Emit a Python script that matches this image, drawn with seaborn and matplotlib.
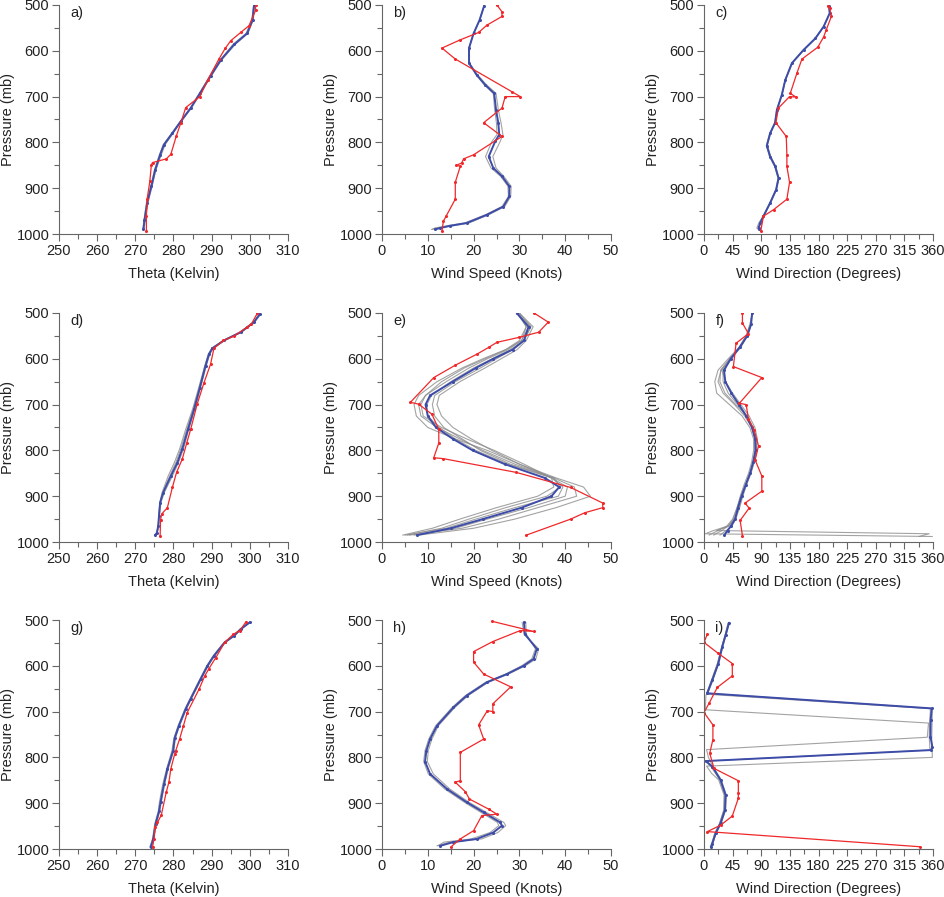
import numpy as np
import pandas as pd
import matplotlib
matplotlib.use("Agg")
import matplotlib.pyplot as plt
import seaborn as sns
from matplotlib.ticker import MultipleLocator

sns.set_theme(style="ticks")
plt.rcParams["font.family"] = ["Liberation Sans", "DejaVu Sans"]

RED = "#f0282a"
BLUE = "#3d4ca8"
GREY = "#8c8c8c"

# ---------------------------------------------------------------------------
# panel a  (theta)
# ---------------------------------------------------------------------------
A_RED_P = [500, 512, 545, 560, 578, 594, 618, 663, 700, 724, 758, 787, 826, 836, 844, 849, 885, 923, 960, 993]
A_RED_V = [301.5, 301.5, 299.8, 297.6, 295.0, 293.6, 291.9, 289.0, 286.9, 283.2, 281.9, 280.7,
           279.3, 278.1, 274.5, 274.2, 273.8, 273.1, 272.9, 272.9]
A_BLUE_P = [500, 533, 562, 586, 620, 655, 693, 725, 754, 780, 805, 827, 860, 896, 932, 969, 990]
A_BLUE_V = [301.1, 300.7, 299.3, 295.9, 292.4, 289.7, 286.9, 284.5, 281.9, 279.7, 277.5, 276.5,
            275.2, 274.2, 273.1, 272.4, 272.1]
A_GREY1_V = [301.0, 300.5, 299.0, 295.6, 292.2, 289.5, 286.8, 284.4, 281.8, 279.5, 277.3, 276.3,
             275.0, 274.0, 272.9, 272.3, 272.0]
A_GREY2_V = [301.3, 300.9, 299.5, 296.2, 292.6, 289.9, 287.1, 284.7, 282.1, 279.9, 277.8, 276.8,
             275.4, 274.4, 273.3, 272.6, 272.3]

# panel b  (wind speed)
B_RED_P = [500, 515, 525, 544, 560, 576, 594, 618, 689, 700, 700, 725, 757, 787, 827, 836, 845,
           850, 852, 887, 924, 961, 972, 993]
B_RED_V = [25.1, 26.2, 26.2, 22.9, 21.1, 17.1, 13.1, 16.0, 28.3, 30.2, 26.9, 26.2, 22.2, 26.2,
           20.0, 17.8, 17.4, 16.2, 17.1, 16.0, 16.0, 14.0, 13.4, 13.1]
B_BLUE_P = [502, 533, 562, 594, 627, 653, 674, 693, 729, 758, 783, 798, 831, 856, 874, 896, 918,
            940, 958, 976, 982, 987, 990]
B_BLUE_V = [22.3, 21.3, 20.0, 19.0, 19.0, 20.7, 22.5, 24.5, 24.9, 25.4, 25.6, 24.7, 23.3, 24.3,
            26.2, 27.8, 27.8, 26.5, 22.9, 18.5, 14.9, 12.7, 11.6]
B_GREY1_V = [22.3, 21.3, 20.0, 19.0, 19.1, 20.9, 22.8, 24.9, 25.4, 26.0, 26.4, 25.8, 24.2, 24.9,
             26.6, 28.2, 28.1, 26.8, 23.3, 19.0, 15.5, 12.0, 10.8]
B_GREY2_V = [22.3, 21.3, 20.0, 19.0, 19.0, 20.6, 22.3, 24.3, 24.6, 25.0, 25.1, 24.0, 22.6, 23.8,
             25.9, 27.5, 27.6, 26.2, 22.6, 18.0, 14.2, 11.5, 11.0]

# panel c  (wind direction)
C_RED_P = [502, 507, 525, 555, 570, 592, 618, 649, 693, 701, 700, 725, 757, 787, 827, 852, 887,
           924, 947, 961, 993]
C_RED_V = [194.4, 197.6, 200.2, 192.0, 188.0, 179.0, 154.0, 146.0, 135.6, 144.5, 134.5, 117.0,
           113.0, 129.3, 130.3, 130.3, 134.5, 130.3, 109.3, 93.5, 89.3]
C_BLUE_P = [502, 518, 547, 573, 598, 627, 664, 696, 729, 757, 780, 807, 831, 852, 878, 903, 932,
            961, 976, 987, 990]
C_BLUE_V = [196.5, 197.6, 188.1, 175.0, 156.6, 138.2, 127.7, 122.4, 114.6, 111.8, 104.0, 98.8,
            104.0, 111.8, 117.2, 113.5, 104.0, 93.5, 88.3, 85.7, 87.2]
C_GREY1_V = [196.5, 197.4, 188.0, 174.6, 156.0, 137.8, 127.4, 122.0, 114.2, 111.2, 103.4, 98.0,
             103.0, 111.0, 116.5, 112.8, 103.4, 93.0, 86.0, 83.0, 85.5]
C_GREY2_V = [196.6, 197.8, 188.4, 175.5, 157.0, 138.6, 128.0, 122.7, 115.0, 112.3, 104.6, 99.5,
             105.0, 112.6, 117.8, 114.0, 104.5, 94.0, 89.5, 86.5, 88.5]

# panel d  (theta)
D_RED_P = [500, 524, 531, 550, 560, 577, 612, 652, 699, 754, 783, 819, 848, 881, 925, 939, 952, 987]
D_RED_V = [302.0, 300.4, 299.3, 295.9, 293.1, 290.6, 289.7, 288.0, 286.2, 284.5, 283.5, 282.3,
           280.8, 279.7, 278.4, 276.9, 276.6, 276.5]
D_BLUE_P = [502, 520, 542, 560, 577, 590, 615, 663, 710, 754, 797, 827, 856, 892, 914, 943, 965, 981, 985]
D_BLUE_V = [302.7, 301.1, 297.6, 293.2, 290.2, 289.3, 288.4, 286.9, 285.4, 283.8, 282.3, 281.0,
            279.3, 277.3, 276.5, 276.2, 276.0, 275.6, 275.1]
D_GREY1_V = [302.5, 300.9, 297.4, 293.0, 290.0, 289.1, 288.2, 286.6, 285.0, 283.2, 281.6, 280.2,
             278.6, 277.0, 276.4, 276.1, 276.0, 275.7, 275.3]
D_GREY2_V = [302.6, 301.0, 297.5, 293.1, 290.1, 289.2, 288.3, 286.8, 285.2, 283.5, 281.9, 280.6,
             279.0, 277.2, 276.5, 276.2, 276.0, 275.6, 275.2]
D_GREY3_V = [302.8, 301.2, 297.8, 293.4, 290.4, 289.5, 288.6, 287.1, 285.6, 284.0, 282.6, 281.3,
             279.7, 277.6, 276.7, 276.3, 276.1, 275.7, 275.2]

# panel e  (wind speed, wide ensemble)
E_RED_P = [500, 520, 542, 553, 564, 575, 590, 614, 641, 695, 699, 721, 754, 784, 816, 818, 848,
           881, 915, 925, 936, 950, 985]
E_RED_V = [33.2, 36.3, 34.2, 30.0, 25.1, 23.3, 20.7, 16.0, 11.3, 6.2, 8.0, 10.9, 12.4, 12.4, 11.3,
           13.4, 29.3, 41.2, 48.2, 48.2, 44.3, 41.2, 31.5]
E_P = [500, 530, 560, 580, 600, 620, 650, 680, 700, 725, 750, 775, 800, 830, 860, 880, 900, 925,
       950, 970, 985]
E_BLUE_V = [29.4, 32.0, 31.0, 28.5, 24.3, 20.5, 15.4, 10.5, 9.5, 10.0, 11.8, 15.5, 19.8, 26.8,
            35.5, 38.7, 37.0, 30.5, 22.0, 15.0, 7.6]
E_GREY1_V = [29.5, 31.5, 30.0, 27.0, 22.0, 17.5, 12.0, 8.0, 7.0, 7.5, 10.0, 16.0, 23.0, 30.0,
             37.0, 37.5, 34.0, 25.0, 17.0, 11.0, 4.5]
E_GREY2_V = [30.0, 33.0, 31.5, 29.5, 26.0, 22.5, 17.0, 12.5, 12.0, 13.0, 15.5, 19.5, 24.0, 30.0,
             38.0, 44.0, 45.5, 38.0, 29.0, 20.0, 8.0]
E_GREY3_V = [30.0, 32.5, 31.0, 28.5, 25.0, 21.5, 16.0, 11.5, 11.0, 11.5, 13.5, 17.5, 21.5, 28.0,
             37.5, 42.0, 42.5, 34.0, 25.5, 17.5, 6.0]
E_GREY4_V = [29.5, 32.0, 30.5, 27.5, 23.0, 19.0, 14.0, 9.5, 8.0, 8.5, 12.0, 17.0, 22.0, 29.0,
             37.5, 39.0, 36.0, 27.0, 19.0, 13.0, 5.5]
E_GREY5_V = [29.6, 32.5, 31.0, 28.0, 24.0, 20.0, 15.0, 10.8, 9.8, 10.0, 12.5, 16.0, 20.5, 27.5,
             37.0, 40.5, 40.0, 32.0, 23.0, 16.0, 7.0]
E_GREY6_V = [29.8, 31.5, 30.5, 27.0, 22.5, 18.0, 13.0, 9.5, 8.5, 9.0, 13.0, 18.5, 24.5, 31.0,
             37.0, 39.5, 38.5, 29.0, 20.5, 14.0, 5.0]

# panel f  (wind direction)
F_RED_P = [500, 522, 545, 566, 617, 641, 697, 700, 731, 755, 790, 821, 856, 889, 915, 926, 953, 986]
F_RED_V = [60.4, 60.4, 69.9, 50.4, 46.2, 90.9, 55.7, 66.2, 69.9, 78.8, 85.7, 80.4, 90.9, 90.9,
           64.6, 70.9, 56.8, 60.4]
F_P = [500, 525, 550, 575, 600, 625, 650, 675, 700, 725, 750, 775, 800, 825, 850, 875, 900, 925,
       950, 965, 975, 985]
F_BLUE_V = [75.7, 74.0, 68.0, 56.0, 42.0, 31.5, 33.5, 43.0, 55.0, 66.5, 75.5, 80.5, 81.0, 77.5,
            72.5, 65.5, 59.0, 53.5, 48.9, 42.5, 37.0, 32.0]
F_GREY1_V = [76, 72, 66, 55, 38, 22, 17, 20, 40, 60, 72, 78, 78, 75, 70, 63, 57, 52, 46, 38, 28, 15]
F_GREY2_V = [76, 73, 67, 56, 40, 26, 25, 33, 50, 68, 77, 82, 83, 79, 73, 66, 58, 52, 45, 36, 22, 8]
F_GREY3_V = [75, 74, 68, 58, 41, 28, 34, 45, 58, 71, 80, 84, 82, 79, 74, 67, 61, 56, 50, 44, 35, 25]
F_WRAP_P = [500, 525, 550, 575, 600, 625, 650, 675, 700, 725, 750, 775, 800, 825, 850, 875, 900,
            925, 950, 965, 975, 982, 988]
F_GREY4_V = [76, 73, 67, 57, 42, 27, 22, 30, 48, 64, 75, 80, 80, 77, 72, 66, 60, 55, 48, 40, 20,
             354, 338]
F_GREY5_V = [75, 74, 68, 57, 43, 30, 30, 38, 53, 66, 76, 81, 81, 78, 73, 66, 60, 54, 48, 38, 15,
             2, 359]

# panel g  (theta)
G_RED_P = [504, 523, 531, 549, 582, 606, 622, 651, 702, 731, 760, 785, 793, 825, 854, 876, 926,
           942, 953, 978, 996]
G_RED_V = [299.0, 297.4, 295.7, 293.4, 291.1, 289.3, 288.2, 286.7, 283.6, 282.6, 281.6, 280.6,
           280.3, 279.3, 278.8, 278.1, 276.8, 275.8, 275.1, 274.9, 274.5]
G_BLUE_P = [505, 520, 534, 549, 578, 600, 629, 672, 694, 731, 758, 785, 825, 858, 898, 918, 945, 978, 996]
G_BLUE_V = [300.0, 297.6, 295.9, 293.4, 290.6, 288.9, 287.1, 284.5, 283.2, 281.4, 280.3, 279.9,
            278.4, 277.5, 276.6, 276.2, 275.3, 274.7, 274.0]
G_GREY1_V = [299.8, 297.4, 295.7, 293.2, 290.4, 288.7, 286.9, 284.3, 283.0, 281.2, 280.1, 279.6,
             278.2, 277.2, 276.3, 276.0, 275.1, 274.5, 273.8]
G_GREY2_V = [300.1, 297.8, 296.1, 293.6, 290.8, 289.1, 287.3, 284.7, 283.4, 281.6, 280.5, 280.1,
             278.6, 277.7, 276.8, 276.4, 275.5, 274.9, 274.2]

# panel h  (wind speed)
H_RED_P = [503, 525, 523, 547, 569, 592, 618, 646, 683, 700, 698, 729, 760, 789, 851, 854, 875,
           891, 913, 924, 927, 960, 978, 995]
H_RED_V = [24.1, 33.1, 30.2, 24.2, 20.0, 20.0, 22.2, 28.1, 24.2, 24.2, 23.0, 21.1, 22.2, 17.1,
           17.1, 16.0, 18.2, 19.1, 23.3, 25.1, 21.8, 20.0, 17.1, 15.1]
H_BLUE_P = [505, 531, 563, 585, 600, 618, 636, 665, 691, 731, 760, 785, 809, 836, 869, 898, 920,
            942, 949, 964, 978, 985, 993]
H_BLUE_V = [31.0, 31.2, 33.8, 33.1, 30.9, 27.3, 22.9, 18.5, 15.6, 12.0, 10.5, 9.7, 9.4, 10.5,
            14.2, 18.5, 22.2, 25.8, 26.2, 24.3, 20.7, 15.6, 12.7]
H_GREY1_V = [30.6, 31.0, 34.2, 33.6, 31.3, 27.6, 23.2, 18.8, 15.9, 12.3, 10.9, 10.1, 9.9, 11.2,
             14.8, 19.0, 22.8, 26.6, 27.0, 25.3, 21.8, 14.8, 12.0]
H_GREY2_V = [31.4, 31.5, 33.5, 32.7, 30.5, 27.0, 22.6, 18.2, 15.3, 11.7, 10.2, 9.4, 9.1, 10.1,
             13.7, 18.0, 21.6, 25.2, 25.5, 23.6, 19.5, 13.5, 12.2]

# panel i  (wind direction, wrapping through north)
I_RED_P = [531, 549, 573, 595, 622, 647, 682, 702, 729, 761, 791, 824, 851, 877, 889, 928, 948, 962, 995]
I_RED_V = [5.2, 0.0, 22.5, 44.5, 44.5, 21.0, 7.9, 0.0, 14.0, 14.0, 9.0, 15.7, 54.0, 54.0, 54.0,
           44.5, 26.2, 5.2, 339.0]
I_BLUE_P = [506, 533, 558, 595, 631, 660, 693, 718, 755, 777, 784, 808, 820, 849, 882, 915, 944,
            966, 988, 995]
I_BLUE_V = [39.3, 34.0, 28.8, 22.5, 13.1, 5.0, 358.0, 356.3, 356.0, 359.0, 357.0, 3.0, 13.0, 26.0,
            34.0, 33.0, 26.0, 18.3, 13.1, 11.5]
I_GREY1_P = [506, 533, 558, 595, 631, 662, 694, 760, 800, 819, 835, 849, 882, 915, 944, 966, 988, 995]
I_GREY1_V = [38.5, 33.5, 28.0, 21.5, 12.0, 4.0, 359.0, 358.0, 359.0, 4.0, 12.0, 23.0, 31.5, 31.0,
             24.5, 17.0, 12.0, 10.0]
I_GREY2_P = [506, 533, 558, 595, 631, 665, 696, 725, 756, 783, 800, 820, 849, 882, 915, 944, 966, 988, 995]
I_GREY2_V = [38.0, 33.0, 28.0, 21.0, 12.0, 3.0, 2.0, 353.0, 351.0, 4.0, 7.0, 14.0, 27.0, 35.0,
             34.0, 27.0, 19.0, 14.0, 12.0]
I_GREY3_V = [40.0, 34.5, 29.5, 23.0, 14.0, 6.0, 356.0, 355.0, 354.0, 355.0, 355.0, 2.0, 11.0,
             24.5, 32.5, 31.5, 24.5, 17.0, 12.5, 10.0]

THETA = dict(lim=(250, 310), major=10, minor=5, label="Theta (Kelvin)")
SPEED = dict(lim=(0, 50), major=10, minor=5, label="Wind Speed (Knots)")
DIREC = dict(lim=(0, 360), major=45, minor=22.5, label="Wind Direction (Degrees)")

PANELS = [
    ("a)", THETA, (A_RED_V, A_RED_P), (A_BLUE_V, A_BLUE_P),
     [(A_GREY1_V, A_BLUE_P), (A_GREY2_V, A_BLUE_P)]),
    ("b)", SPEED, (B_RED_V, B_RED_P), (B_BLUE_V, B_BLUE_P),
     [(B_GREY1_V, B_BLUE_P), (B_GREY2_V, B_BLUE_P)]),
    ("c)", DIREC, (C_RED_V, C_RED_P), (C_BLUE_V, C_BLUE_P),
     [(C_GREY1_V, C_BLUE_P), (C_GREY2_V, C_BLUE_P)]),
    ("d)", THETA, (D_RED_V, D_RED_P), (D_BLUE_V, D_BLUE_P),
     [(D_GREY1_V, D_BLUE_P), (D_GREY2_V, D_BLUE_P), (D_GREY3_V, D_BLUE_P)]),
    ("e)", SPEED, (E_RED_V, E_RED_P), (E_BLUE_V, E_P),
     [(g, E_P) for g in (E_GREY1_V, E_GREY2_V, E_GREY3_V, E_GREY4_V, E_GREY5_V, E_GREY6_V)]),
    ("f)", DIREC, (F_RED_V, F_RED_P), (F_BLUE_V, F_P),
     [(F_GREY1_V, F_P), (F_GREY2_V, F_P), (F_GREY3_V, F_P),
      (F_GREY4_V, F_WRAP_P), (F_GREY5_V, F_WRAP_P)]),
    ("g)", THETA, (G_RED_V, G_RED_P), (G_BLUE_V, G_BLUE_P),
     [(G_GREY1_V, G_BLUE_P), (G_GREY2_V, G_BLUE_P)]),
    ("h)", SPEED, (H_RED_V, H_RED_P), (H_BLUE_V, H_BLUE_P),
     [(H_GREY1_V, H_BLUE_P), (H_GREY2_V, H_BLUE_P)]),
    ("i)", DIREC, (I_RED_V, I_RED_P), (I_BLUE_V, I_BLUE_P),
     [(I_GREY1_V, I_GREY1_P), (I_GREY2_V, I_GREY2_P), (I_GREY3_V, I_BLUE_P)]),
]


def profile(ax, vals, pres, color, lw, marker=True, alpha=1.0):
    d = pd.DataFrame({"v": vals, "p": pres})
    sns.lineplot(data=d, x="v", y="p", sort=False, estimator=None, ax=ax, color=color,
                 lw=lw, alpha=alpha, marker="o" if marker else None,
                 markersize=2.2, markeredgewidth=0)


fig = plt.figure(figsize=(9.44, 8.97), dpi=100)
W, H = 944, 897
lefts = [59, 382, 704]
tops = [5, 313, 620]

for k, (tag, xs, red, blue, greys) in enumerate(PANELS):
    r, c = divmod(k, 3)
    ax = fig.add_axes([lefts[c] / W, 1 - (tops[r] + 229) / H, 229 / W, 229 / H])
    for gv, gp in greys:
        profile(ax, gv, gp, GREY, 0.8, marker=False, alpha=0.8)
    profile(ax, blue[0], blue[1], BLUE, 1.4)
    profile(ax, red[0], red[1], RED, 0.9)

    ax.set_xlim(*xs["lim"])
    ax.set_ylim(1000, 500)
    ax.xaxis.set_major_locator(MultipleLocator(xs["major"]))
    ax.xaxis.set_minor_locator(MultipleLocator(xs["minor"]))
    ax.yaxis.set_major_locator(MultipleLocator(100))
    ax.yaxis.set_minor_locator(MultipleLocator(50))
    ax.tick_params(which="both", direction="out", color="#666666", labelsize=10.5,
                   labelcolor="#222222", width=0.8, pad=2)
    ax.tick_params(which="major", length=5)
    ax.tick_params(which="minor", length=3.5)
    for s in ("top", "right"):
        ax.spines[s].set_visible(False)
    for s in ("left", "bottom"):
        ax.spines[s].set_color("#666666")
        ax.spines[s].set_linewidth(0.8)
    ax.set_xlabel(xs["label"], fontsize=10.5, color="#222222", labelpad=7)
    ax.set_ylabel("Pressure (mb)", fontsize=10.5, color="#222222", labelpad=1)
    ax.text(0.05, 0.995, tag, transform=ax.transAxes, ha="left", va="top", fontsize=10.5,
            color="#222222")

fig.savefig("out.png", dpi=100)
